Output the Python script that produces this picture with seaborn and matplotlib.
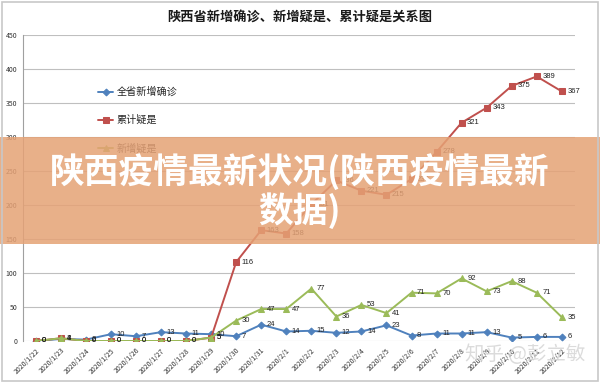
import matplotlib
matplotlib.use("Agg")
import matplotlib.pyplot as plt
from matplotlib.patches import Rectangle
import pandas as pd
import seaborn as sns

dates = ['2020/1/22', '2020/1/23', '2020/1/24', '2020/1/25', '2020/1/26', '2020/1/27',
         '2020/1/28', '2020/1/29', '2020/1/30', '2020/1/31', '2020/2/1', '2020/2/2',
         '2020/2/3', '2020/2/4', '2020/2/5', '2020/2/6', '2020/2/7', '2020/2/8',
         '2020/2/9', '2020/2/10', '2020/2/11', '2020/2/12']
confirmed = [0, 3, 2, 10, 7, 13, 11, 10, 7, 24, 14, 15, 12, 14, 23, 8, 11, 11, 13, 5, 6, 6]
cum_suspect = [0, 4, 0, 0, 0, 0, 0, 5, 116, 163, 158, 201, 236, 221, 215, 238, 278, 321,
               343, 375, 389, 367]
new_suspect = [0, 4, 0, 0, 0, 0, 0, 5, 30, 47, 47, 77, 36, 53, 41, 71, 70, 92, 73, 88, 71, 35]

series_names = ['全省新增确诊', '累计疑是', '新增疑是']
y_ticks = list(range(0, 451, 50))

sns.set_style('white')
plt.rcParams['font.family'] = ['Noto Sans CJK SC', 'DejaVu Sans']

df = pd.DataFrame({'idx': range(len(dates)), 'date': dates,
                   series_names[0]: confirmed,
                   series_names[1]: cum_suspect,
                   series_names[2]: new_suspect})

fig = plt.figure(figsize=(6, 3.83), dpi=100)
ax = fig.add_axes([0.038, 0.1097, 0.92, 0.799])

styles = [('#4F81BD', 'D', 3.5), ('#C0504D', 's', 4.2), ('#9BBB59', '^', 4.8)]
draw_order = [1, 2, 0]
for i in draw_order:
    name = series_names[i]
    color, marker, ms = styles[i]
    sns.lineplot(data=df, x='idx', y=name, ax=ax, color=color, marker=marker,
                 markersize=ms, markeredgecolor=color, linewidth=1.4,
                 label=name, zorder=3 + i)
    # data labels to the right of each point
    for xi, yi in zip(df['idx'], df[name]):
        ax.annotate(str(yi), (xi, yi), xytext=(4, 0), textcoords='offset points',
                    ha='left', va='center', fontsize=5.5, color='#222222',
                    family=['Liberation Sans', 'DejaVu Sans'], zorder=8)

ax.set_xlim(-0.52, len(dates) - 0.48)
ax.set_ylim(0, 450)
ax.set_yticks(y_ticks)
ax.set_yticklabels([str(v) for v in y_ticks], fontsize=5, color='#333333')
ax.set_xticks(range(len(dates)))
ax.set_xticklabels(dates, rotation=45, ha='right', rotation_mode='anchor',
                   fontsize=5, color='#333333')
ax.tick_params(axis='both', length=0, pad=4)
ax.set_xlabel('')
ax.set_ylabel('')
ax.grid(axis='y', color='#BFBFBF', linewidth=0.8)
ax.set_axisbelow(True)
for side in ['top', 'right', 'bottom']:
    ax.spines[side].set_visible(False)
ax.spines['left'].set_color('#A0A0A0')
ax.spines['left'].set_linewidth(0.8)

handles, labels = ax.get_legend_handles_labels()
order = [labels.index(n) for n in series_names]
ax.legend([handles[k] for k in order], [labels[k] for k in order],
          loc='upper left', bbox_to_anchor=(0.12, 0.86), frameon=False,
          fontsize=7.3, labelspacing=1.75, handlelength=1.5, handletextpad=0.3)

fig.text(0.5, 1 - 17 / 383, '陕西省新增确诊、新增疑是、累计疑是关系图', ha='center',
         va='center', fontsize=9.5, fontweight='bold', color='#1a1a1a')

# overlay banner
fig.add_artist(Rectangle((0, 1 - 244 / 383), 1, 107 / 383, transform=fig.transFigure,
                         facecolor='#E5A275', edgecolor='none', alpha=0.85, zorder=10))
fig.text(0.5, 1 - 172 / 383, '陕西疫情最新状况(陕西疫情最新', ha='center', va='center',
         fontsize=25, fontweight='bold', color='white', zorder=11)
fig.text(0.5, 1 - 211 / 383, '数据)', ha='center', va='center',
         fontsize=25, fontweight='bold', color='white', zorder=11)

fig.text(0.975, 1 - 355 / 383, '知乎 @彭立敏', ha='right', va='center', fontsize=14,
         color='#D8D8D8', alpha=0.9, zorder=11)

fig.add_artist(Rectangle((0.004, 0.004), 0.992, 0.992, transform=fig.transFigure,
                         facecolor='none', edgecolor='#C8C8C8', linewidth=1.2, zorder=12))

fig.savefig('out.png', dpi=100)
